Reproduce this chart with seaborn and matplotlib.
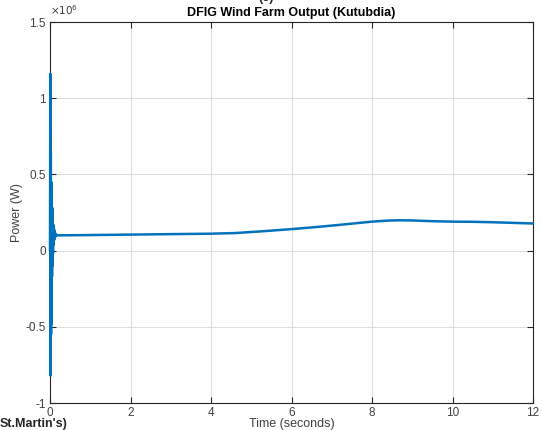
import numpy as np
import pandas as pd
import matplotlib
matplotlib.use("Agg")
import matplotlib.pyplot as plt
import seaborn as sns
from matplotlib.ticker import ScalarFormatter

# Start-up transient of the wind farm output (time in s, power in W)
transient_t = [0.000, 0.008, 0.014, 0.020, 0.026, 0.032, 0.038, 0.044, 0.050, 0.056,
               0.062, 0.068, 0.074, 0.080, 0.088, 0.096, 0.104, 0.112, 0.120, 0.130,
               0.140, 0.150, 0.165]
transient_p = [0.0, 1.16e6, -0.82e6, 0.65e6, -0.55e6, 0.45e6, -0.48e6, 0.35e6, -0.17e6, 0.28e6,
               -0.10e6, 0.20e6, -0.02e6, 0.17e6, 0.04e6, 0.15e6, 0.07e6, 0.13e6, 0.085e6, 0.115e6,
               0.095e6, 0.105e6, 0.100e6]

# Slow variation after the transient
steady_t = [0.2, 1.0, 2.0, 3.0, 4.0, 4.6, 5.0, 5.5, 6.0, 6.5, 7.0, 7.5, 8.0, 8.4,
            8.7, 9.0, 9.5, 10.0, 10.5, 11.0, 11.5, 12.0]
steady_p = [0.100e6, 0.102e6, 0.105e6, 0.108e6, 0.111e6, 0.115e6, 0.122e6, 0.131e6,
            0.141e6, 0.152e6, 0.164e6, 0.177e6, 0.190e6, 0.197e6, 0.199e6, 0.198e6,
            0.193e6, 0.190e6, 0.189e6, 0.186e6, 0.182e6, 0.178e6]

x_ticks = [0, 2, 4, 6, 8, 10, 12]
y_ticks = [-1e6, -0.5e6, 0, 0.5e6, 1e6, 1.5e6]
y_tick_labels = ["-1", "-0.5", "0", "0.5", "1", "1.5"]

df = pd.DataFrame({"Time": transient_t + steady_t, "Power": transient_p + steady_p})

sns.set_theme(style="whitegrid")
plt.rcParams["font.family"] = ["Liberation Sans", "DejaVu Sans"]

fig = plt.figure(figsize=(5.42, 4.30), dpi=100)
ax = fig.add_axes([50 / 542, 27 / 430, 483 / 542, 381 / 430])

sns.lineplot(data=df, x="Time", y="Power", ax=ax, color="#0072BD", linewidth=1.8,
             sort=False, estimator=None, zorder=3)
for ln in ax.lines:
    ln.set_clip_on(False)

ax.set_xlim(0, 12)
ax.set_ylim(-1e6, 1.5e6)
ax.set_xticks(x_ticks)
ax.set_yticks(y_ticks)

fmt = ScalarFormatter(useMathText=True)
fmt.set_powerlimits((0, 0))
ax.yaxis.set_major_formatter(fmt)
ax.yaxis.get_offset_text().set_visible(False)
ax.set_yticklabels(y_tick_labels)
ax.set_xticklabels([str(v) for v in x_ticks])

ax.grid(True, color="#dcdcdc", linewidth=0.7)
ax.set_facecolor("white")
for s in ax.spines.values():
    s.set_color("#262626")
    s.set_linewidth(0.8)
    s.set_zorder(2.5)

ax.tick_params(axis="both", direction="in", length=4, width=0.8, color="#262626",
               labelsize=8.5, labelcolor="#404040", top=True, right=True,
               left=True, bottom=True, pad=3)

ax.set_xlabel("Time (seconds)", fontsize=9, color="#404040", labelpad=-1)
ax.set_ylabel("Power (W)", fontsize=9, color="#404040", labelpad=2)
ax.set_title("DFIG Wind Farm Output (Kutubdia)", fontsize=9, fontweight="bold",
             color="black", pad=4)

fig.text(50 / 542, 1 - 17 / 430, r"$\times10^6$", fontsize=7.5, color="#404040",
         ha="left", va="bottom")
fig.text(258 / 542, 1 + 2 / 430, "(c)", fontsize=9, fontweight="bold", ha="left",
         va="center")
fig.text(0 / 542, 1 - 424 / 430, "St.Martin's)", fontsize=9, fontweight="bold",
         ha="left", va="center")

fig.savefig("out.png", dpi=100)
